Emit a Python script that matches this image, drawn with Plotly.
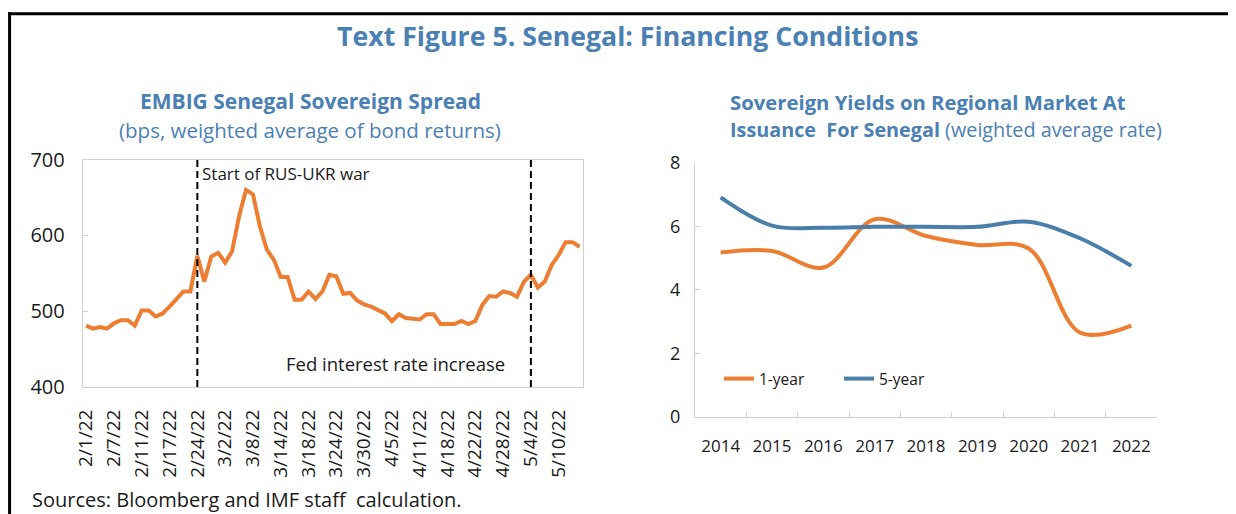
import plotly.graph_objects as go

# The page body adds an 8px margin, so the figure is sized to fill the
# remaining 1228x506 area and positions are given in window pixels.
OFF = 8
W, H = 1236 - OFF, 514 - OFF

# ---------------- data ----------------
dates = [
    "2/1/22", "2/2/22", "2/3/22", "2/4/22", "2/7/22", "2/8/22", "2/9/22", "2/10/22",
    "2/11/22", "2/14/22", "2/15/22", "2/16/22", "2/17/22", "2/18/22", "2/22/22", "2/23/22",
    "2/24/22", "2/25/22", "2/28/22", "3/1/22", "3/2/22", "3/3/22", "3/4/22", "3/7/22",
    "3/8/22", "3/9/22", "3/10/22", "3/11/22", "3/14/22", "3/15/22", "3/16/22", "3/17/22",
    "3/18/22", "3/21/22", "3/22/22", "3/23/22", "3/24/22", "3/25/22", "3/28/22", "3/29/22",
    "3/30/22", "3/31/22", "4/1/22", "4/4/22", "4/5/22", "4/6/22", "4/7/22", "4/8/22",
    "4/11/22", "4/12/22", "4/13/22", "4/14/22", "4/18/22", "4/19/22", "4/20/22", "4/21/22",
    "4/22/22", "4/25/22", "4/26/22", "4/27/22", "4/28/22", "4/29/22", "5/2/22", "5/3/22",
    "5/4/22", "5/5/22", "5/6/22", "5/9/22", "5/10/22", "5/11/22", "5/12/22", "5/13/22",
]
spread_bps = [
    481, 477, 479, 477, 484, 488, 488, 481, 501, 501, 493, 497, 506, 517, 526, 526,
    573, 539, 572, 577, 564, 579, 625, 660, 654, 612, 581, 568, 545, 545, 515, 515,
    526, 516, 526, 548, 546, 523, 524, 514, 509, 506, 502, 497, 487, 496, 491, 490,
    489, 496, 496, 483, 483, 483, 487, 483, 487, 508, 520, 519, 526, 524, 519, 539,
    548, 531, 539, 561, 574, 591, 591, 585,
]
date_tick_labels = dates[::4]
event_dates = ["2/24/22", "5/4/22"]
event_labels = ["Start of RUS-UKR war", "Fed interest rate increase"]

years = ["2014", "2015", "2016", "2017", "2018", "2019", "2020", "2021", "2022"]
yield_1y = [5.17, 5.22, 4.70, 6.22, 5.69, 5.41, 5.30, 2.65, 2.87]
yield_5y = [6.91, 6.02, 5.95, 5.98, 5.98, 5.98, 6.14, 5.62, 4.75]

# ---------------- style ----------------
FONT = "Open Sans"
ORANGE = "#ED7D31"
BLUE = "#4A7EAB"
TITLE_BLUE = "#4A80B3"
AXIS_GRAY = "#D0D0D0"
TXT = "#1A1A1A"


def px_x(p):
    return (p - OFF) / W


def px_y(p):
    return 1 - (p - OFF) / H


fig = go.Figure()

# Left chart: EMBIG spread
fig.add_trace(go.Scatter(
    x=dates, y=spread_bps, mode="lines", xaxis="x", yaxis="y",
    line=dict(color=ORANGE, width=4), showlegend=False, name="EMBIG spread",
))

# Right chart: yields
fig.add_trace(go.Scatter(
    x=years, y=yield_1y, mode="lines", xaxis="x2", yaxis="y2", name="1-year",
    line=dict(color=ORANGE, width=4, shape="spline", smoothing=1.0),
))
fig.add_trace(go.Scatter(
    x=years, y=yield_5y, mode="lines", xaxis="x2", yaxis="y2", name="5-year",
    line=dict(color=BLUE, width=4, shape="spline", smoothing=1.0),
))

n = len(dates)
left_dom_x = [px_x(82.7), px_x(583)]
left_dom_y = [px_y(387), px_y(159.5)]
right_dom_x = [px_x(695), px_x(1157)]
right_dom_y = [px_y(416.7), px_y(162.7)]

fig.update_layout(
    width=W, height=H,
    margin=dict(l=0, r=0, t=0, b=0, pad=0, autoexpand=False),
    paper_bgcolor="white", plot_bgcolor="white",
    font=dict(family=FONT, color=TXT),
    xaxis=dict(
        domain=left_dom_x, anchor="y", type="category", automargin=False,
        categoryorder="array", categoryarray=dates,
        range=[-0.5, n - 0.5],
        tickmode="array", tickvals=date_tick_labels, ticktext=date_tick_labels,
        tickangle=-90, ticks="", showgrid=False, zeroline=False,
        showline=True, linecolor=AXIS_GRAY, linewidth=1, mirror=True,
        tickfont=dict(size=19, family=FONT, color=TXT),
        ticklabelstandoff=14,
    ),
    xaxis3=dict(
        overlaying="x", anchor="y", type="linear", side="bottom", automargin=False,
        range=[-0.5, n - 0.5], tick0=-0.5, dtick=1,
        ticks="inside", ticklen=4, tickcolor=AXIS_GRAY, tickwidth=1,
        showticklabels=False, showgrid=False, zeroline=False, showline=False,
    ),
    yaxis=dict(
        domain=left_dom_y, anchor="x", automargin=False,
        range=[400, 700], dtick=100, tick0=400,
        ticks="inside", ticklen=5, tickcolor=AXIS_GRAY,
        showgrid=False, zeroline=False,
        showline=True, linecolor=AXIS_GRAY, linewidth=1, mirror=True,
        tickfont=dict(size=20, family=FONT, color=TXT),
        ticklabelstandoff=13,
    ),
    xaxis2=dict(
        domain=right_dom_x, anchor="y2", type="category", automargin=False,
        range=[-0.5, len(years) - 0.5],
        tickson="boundaries", ticks="inside", ticklen=5, tickcolor=AXIS_GRAY,
        showgrid=False, zeroline=False,
        showline=True, linecolor=AXIS_GRAY, linewidth=1,
        tickfont=dict(size=17, family=FONT, color=TXT),
        ticklabelstandoff=14,
    ),
    yaxis2=dict(
        domain=right_dom_y, anchor="x2", automargin=False,
        range=[0, 8], dtick=2, tick0=0,
        ticks="inside", ticklen=5, tickcolor=AXIS_GRAY,
        showgrid=False, zeroline=False,
        showline=True, linecolor=AXIS_GRAY, linewidth=1,
        tickfont=dict(size=18, family=FONT, color=TXT),
        ticklabelstandoff=10,
    ),
    legend=dict(
        orientation="h", x=px_x(719), y=px_y(379), xanchor="left", yanchor="middle",
        font=dict(size=15.5, family=FONT, color=TXT),
        bgcolor="rgba(0,0,0,0)", entrywidth=75, entrywidthmode="pixels",
    ),
)

# Event lines (left chart)
for d in event_dates:
    fig.add_shape(type="line", xref="x", yref="y domain", x0=d, x1=d, y0=0, y1=1,
                  line=dict(color="black", width=2, dash="7px,4px"))

# Event annotations
fig.add_annotation(x=event_dates[0], y=px_y(173), xref="x", yref="paper",
                   text=event_labels[0], showarrow=False, xanchor="left", yanchor="middle",
                   xshift=3, font=dict(size=17, family=FONT, color=TXT))
fig.add_annotation(x=event_dates[1], y=px_y(363), xref="x", yref="paper",
                   text=event_labels[1], showarrow=False, xanchor="right", yanchor="middle",
                   xshift=-24, font=dict(size=18.5, family=FONT, color=TXT))

# Titles
fig.add_annotation(x=px_x(627.5), y=px_y(35), xref="paper", yref="paper",
                   text="<b>Text Figure 5. Senegal: Financing Conditions</b>",
                   showarrow=False, xanchor="center", yanchor="middle",
                   font=dict(size=26.7, family=FONT, color=TITLE_BLUE))
fig.add_annotation(x=px_x(310), y=px_y(101), xref="paper", yref="paper",
                   text="<b>EMBIG Senegal Sovereign Spread</b>",
                   showarrow=False, xanchor="center", yanchor="middle",
                   font=dict(size=21, family=FONT, color=TITLE_BLUE))
fig.add_annotation(x=px_x(310), y=px_y(130), xref="paper", yref="paper",
                   text="(bps, weighted average of bond returns)",
                   showarrow=False, xanchor="center", yanchor="middle",
                   font=dict(size=20.5, family=FONT, color=TITLE_BLUE))
fig.add_annotation(x=px_x(728), y=px_y(102), xref="paper", yref="paper",
                   text="<b>Sovereign Yields on Regional Market At</b>",
                   showarrow=False, xanchor="left", yanchor="middle",
                   font=dict(size=20.3, family=FONT, color=TITLE_BLUE))
fig.add_annotation(x=px_x(728), y=px_y(130), xref="paper", yref="paper",
                   text="<b>Issuance  For Senegal</b> (weighted average rate)",
                   showarrow=False, xanchor="left", yanchor="middle",
                   font=dict(size=19.8, family=FONT, color=TITLE_BLUE))

# Source note
fig.add_annotation(x=px_x(30), y=px_y(499), xref="paper", yref="paper",
                   text="Sources: Bloomberg and IMF staff  calculation.",
                   showarrow=False, xanchor="left", yanchor="middle",
                   font=dict(size=20, family=FONT, color=TXT))

# Frame lines (top and left)
fig.add_shape(type="line", xref="paper", yref="paper",
              x0=px_x(8), x1=1, y0=px_y(13.7), y1=px_y(13.7),
              line=dict(color="black", width=3))
fig.add_shape(type="line", xref="paper", yref="paper",
              x0=px_x(9.6), x1=px_x(9.6), y0=px_y(12.3), y1=0,
              line=dict(color="black", width=3))

fig.write_html("out.html")
